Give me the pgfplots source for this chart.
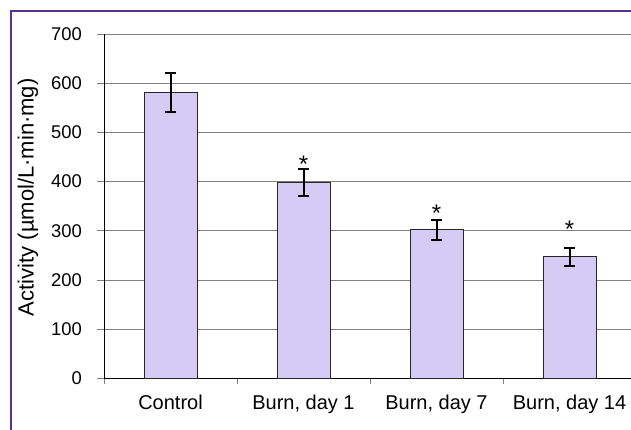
\documentclass[border=0pt]{standalone}
\usepackage{pgfplots}
\pgfplotsset{compat=1.18}
\usepackage{fontspec}
\setmainfont{Liberation Sans}
\definecolor{barfill}{RGB}{213,203,245}
\definecolor{framecol}{RGB}{92,48,150}
\definecolor{gridcol}{RGB}{128,128,128}
\begin{document}
\begin{tikzpicture}[x=0.5pt,y=0.5pt]
\useasboundingbox (0,0) rectangle (631,429);
\begin{scope}
\clip (0,0) rectangle (631,429);
\draw[framecol, line width=1pt] (10.7,-20) -- (10.7,418) -- (700,418);
\end{scope}
\begin{axis}[
  at={(52pt,25.25pt)}, anchor=south west,
  scale only axis, width=266pt, height=172.25pt,
  xmin=-0.5, xmax=3.5, ymin=0, ymax=700,
  ytick={0,100,...,700},
  xtick={0,1,2,3},
  xticklabels={Control, {Burn, day 1}, {Burn, day 7}, {Burn, day 14}},
  minor xtick={-0.5,0.5,1.5,2.5,3.5},
  axis x line*=bottom, axis y line*=left,
  axis line style={-, black, line width=0.5pt},
  tick align=outside,
  major tick length=3.5pt,
  minor tick length=2.5pt,
  xtick style={draw=none},
  minor x tick style={draw=gridcol, line width=0.5pt},
  ytick style={draw=gridcol, line width=0.5pt},
  ymajorgrids,
  grid style={gridcol, line width=0.5pt},
  tick label style={font=\fontsize{9.2}{11}\selectfont},
  xticklabel style={font=\fontsize{10}{12}\selectfont, yshift=-1pt},
  yticklabel style={xshift=-4pt},
  /pgf/number format/assume math mode=true,
  ylabel={Activity (µmol/L·min·mg)},
  ylabel style={at={(axis description cs:-0.1429,0.526)}, anchor=center, font=\fontsize{11}{13}\selectfont},
  ybar, bar width=26.5pt,
  clip=false,
]
\addplot[fill=barfill, draw=black!85, line width=0.5pt,
  error bars/.cd, y dir=both, y explicit,
  error bar style={black, line width=1pt},
  error mark options={black, line width=1pt, mark size=2.7pt, rotate=90}]
  coordinates {
    (0,581) +- (0,40)
    (1,398) +- (0,28)
    (2,302) +- (0,21)
    (3,247) +- (0,17.5)
  };
\node[anchor=base, inner sep=0pt, font=\fontsize{12}{14}\selectfont] at (axis cs:1,418.3) {*};
\node[anchor=base, inner sep=0pt, font=\fontsize{12}{14}\selectfont] at (axis cs:2,318.7) {*};
\node[anchor=base, inner sep=0pt, font=\fontsize{12}{14}\selectfont] at (axis cs:3,286.2) {*};
\end{axis}
\end{tikzpicture}
\end{document}
